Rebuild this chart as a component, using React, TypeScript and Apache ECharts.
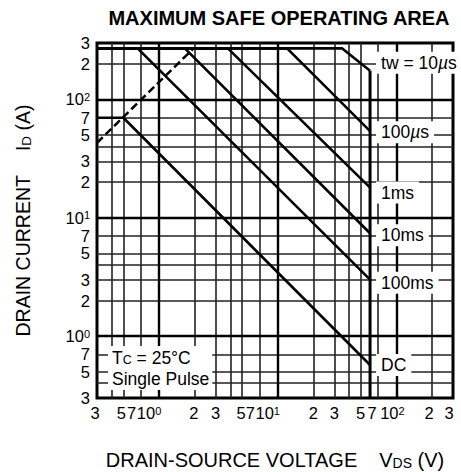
import React, { useEffect, useRef } from "react";
import * as echarts from "echarts";

const FONT = '"Liberation Sans", Arial, Helvetica, sans-serif';

// Axis ranges (log-log)
const V_MIN = 0.3;
const V_MAX = 300;
const I_MIN = 0.3;
const I_MAX = 300;

// Grid lines (1,2,3,4,5,7 in each decade)
const minorGrid = [0.4, 0.5, 0.7, 2, 3, 4, 5, 7, 20, 30, 40, 50, 70, 200];
const decadeGrid = [1, 10, 100];
// Tick labels shown on both axes
const tickValues = [0.3, 0.5, 0.7, 1, 2, 3, 5, 7, 10, 20, 30, 50, 70, 100, 200, 300];

// SOA curves: VDS (V) and ID (A)
const vds10us = [0.3, 35, 60];
const id10us = [270, 270, 175];
const vds100us = [0.3, 12, 60];
const id100us = [270, 270, 54];
const vds1ms = [0.3, 3.8, 60];
const id1ms = [270, 270, 18];
const vds10ms = [0.3, 1.65, 60];
const id10ms = [270, 270, 7.4];
const vds100ms = [0.3, 0.66, 60];
const id100ms = [270, 270, 3.0];
const vdsDC = [0.3, 0.5, 60];
const idDC = [70, 70, 0.57];
// BVDSS limit
const vdsBV = [60, 60];
const idBV = [175, 0.3];
// RDS(on) limit (dashed)
const vdsRds = [0.3, 1.95];
const idRds = [43, 270];

const curveLabels = ["tw = 10{mu|µ}s", "100{mu|µ}s", "1ms", "10ms", "100ms", "DC"];

// label placement tweaks (style, not data)
const xLabelShift: Record<string, number> = {
  "0.3": -2, "0.5": -2, "0.7": -9, "1": -10, "2": -1, "5": -1, "7": -9, "10": -10,
  "70": -6, "100": -4, "200": -3, "300": -4,
};
const endLabelDy = [-8, 1, 5, 2, 3, 0];

function tickText(v: number): string {
  const e = Math.round(Math.log10(v));
  if (Math.abs(v - Math.pow(10, e)) < 1e-9) return `{m|10}{s|${e}}`;
  const d = Math.round(v / Math.pow(10, Math.floor(Math.log10(v) + 1e-9)));
  return `{m|${d}}`;
}

const tickRich = {
  m: { fontSize: 16.5, fontFamily: FONT, color: "#000", lineHeight: 16 },
  s: { fontSize: 11, fontFamily: FONT, color: "#000", lineHeight: 10, verticalAlign: "top" },
};

const labelRich = {
  t: { fontSize: 17.5, fontFamily: FONT, color: "#000" },
  mu: { fontSize: 17.5, fontFamily: FONT, color: "#000", fontStyle: "italic" },
};

function pairs(xs: number[], ys: number[]) {
  return xs.map((x, k) => [x, ys[k]]);
}

function buildOption(): any {
  const minorStyle = { color: "#222", width: 1.6, type: "solid" };
  const majorStyle = { color: "#000", width: 2.4, type: "solid" };
  const hidden = { color: "rgba(0,0,0,0)", width: 0, type: "solid" };

  const mlData: any[] = [
    ...minorGrid.map((v) => ({ xAxis: v, lineStyle: minorStyle })),
    ...minorGrid.map((v) => ({ yAxis: v, lineStyle: minorStyle })),
    ...decadeGrid.map((v) => ({ xAxis: v, lineStyle: majorStyle })),
    ...decadeGrid.map((v) => ({ yAxis: v, lineStyle: majorStyle })),
    ...tickValues.map((v) => ({
      xAxis: v,
      lineStyle: hidden,
      label: {
        show: true,
        position: "start",
        distance: 7,
        color: "#000",
        offset: [xLabelShift[String(v)] || 0, 0],
        formatter: () => tickText(v),
        rich: tickRich,
      },
    })),
    ...tickValues.map((v) => ({
      yAxis: v,
      lineStyle: hidden,
      label: {
        show: true,
        position: "start",
        distance: 7,
        color: "#000",
        formatter: () => tickText(v),
        rich: tickRich,
      },
    })),
  ];

  const curves = [
    [vds10us, id10us],
    [vds100us, id100us],
    [vds1ms, id1ms],
    [vds10ms, id10ms],
    [vds100ms, id100ms],
    [vdsDC, idDC],
  ];

  const curveSeries = curves.map((c, k) => ({
    type: "line",
    data: pairs(c[0], c[1]),
    symbol: "none",
    showSymbol: false,
    silent: true,
    z: 3,
    lineStyle: { color: "#000", width: 2.6 },
    endLabel: {
      show: true,
      formatter: () => curveLabels[k].replace(/^([^{]+)/, "{t|$1}").replace(/\}([^{}]+)$/, "}{t|$1}"),
      distance: 6,
      offset: [0, endLabelDy[k]],
      backgroundColor: "#fff",
      padding: [2, 5, 2, 5],
      color: "#000",
      fontSize: 17.5,
      fontFamily: FONT,
      rich: labelRich,
    },
  }));

  return {
    animation: false,
    backgroundColor: "#fff",
    grid: {
      left: 97,
      top: 43,
      right: 8,
      bottom: 74,
      show: true,
      borderColor: "#000",
      borderWidth: 3,
      backgroundColor: "transparent",
      containLabel: false,
      outerBoundsMode: "none",
    },
    graphic: [
      {
        type: "text",
        x: 279,
        y: 8,
        z: 100,
        style: {
          text: "MAXIMUM SAFE OPERATING AREA",
          fontSize: 20,
          fontWeight: "bold",
          fontFamily: FONT,
          fill: "#000",
          align: "center",
          verticalAlign: "top",
        },
      },
      {
        type: "text",
        x: 108,
        y: 346,
        z: 100,
        style: {
          text: "{t|T}{ss|C}{t| = 25°C}\n{t|Single Pulse}",
          backgroundColor: "#fff",
          padding: [1, 3, 1, 4],
          align: "left",
          verticalAlign: "top",
          fill: "#000",
          fontSize: 17.5,
          fontFamily: FONT,
          lineHeight: 21,
          rich: {
            t: { fontSize: 17.5, fontFamily: FONT, fill: "#000", color: "#000", lineHeight: 21 },
            ss: { fontSize: 12.5, fontFamily: FONT, fill: "#000", color: "#000", lineHeight: 21, verticalAlign: "middle", padding: [5, 0, 0, 0] },
          },
        },
      },
    ],
    xAxis: {
      type: "log",
      logBase: 10,
      min: V_MIN,
      max: V_MAX,
      axisLine: { show: false },
      axisTick: { show: false },
      axisLabel: { show: false },
      splitLine: { show: false },
      name: "{a|DRAIN-SOURCE VOLTAGE}{g|}{a|V}{b|DS}{a| (V)}",
      nameLocation: "middle",
      nameGap: 50,
      nameTextStyle: {
        rich: {
          a: { fontSize: 20, fontFamily: FONT, color: "#000", lineHeight: 22, verticalAlign: "bottom" },
          b: { fontSize: 14, fontFamily: FONT, color: "#000", lineHeight: 19, verticalAlign: "bottom" },
          g: { width: 22 },
        },
      },
    },
    yAxis: {
      type: "log",
      logBase: 10,
      min: I_MIN,
      max: I_MAX,
      axisLine: { show: false },
      axisTick: { show: false },
      axisLabel: { show: false },
      splitLine: { show: false },
      name: "{a|DRAIN CURRENT}{g|}{a|I}{b|D}{a| (A)}",
      nameLocation: "middle",
      nameGap: 64,
      nameRotate: 90,
      nameTextStyle: {
        rich: {
          a: { fontSize: 19.5, fontFamily: FONT, color: "#000", lineHeight: 22, verticalAlign: "bottom" },
          b: { fontSize: 13.5, fontFamily: FONT, color: "#000", lineHeight: 18, verticalAlign: "bottom" },
          g: { width: 24 },
        },
      },
    },
    series: [
      {
        type: "line",
        data: [[1, 1]],
        symbol: "none",
        showSymbol: false,
        silent: true,
        z: 1,
        lineStyle: { opacity: 0 },
        markLine: {
          silent: true,
          z: 1,
          symbol: ["none", "none"],
          animation: false,
          label: { show: false },
          data: mlData,
        },
      },
      ...curveSeries,
      {
        type: "line",
        data: pairs(vdsBV, idBV),
        symbol: "none",
        showSymbol: false,
        silent: true,
        z: 3,
        lineStyle: { color: "#000", width: 3 },
      },
      {
        type: "line",
        data: pairs(vdsRds, idRds),
        symbol: "none",
        showSymbol: false,
        silent: true,
        z: 3,
        lineStyle: { color: "#000", width: 2.5, type: [8, 4] },
      },
    ],
  };
}

export default function App() {
  const ref = useRef<HTMLDivElement>(null);
  useEffect(() => {
    if (!ref.current) return;
    const chart = echarts.init(ref.current, null, { renderer: "svg" });
    chart.setOption(buildOption());
    return () => chart.dispose();
  }, []);
  return (
    <div
      ref={ref}
      style={{ position: "absolute", left: 0, top: 0, width: 461, height: 472 }}
    />
  );
}
